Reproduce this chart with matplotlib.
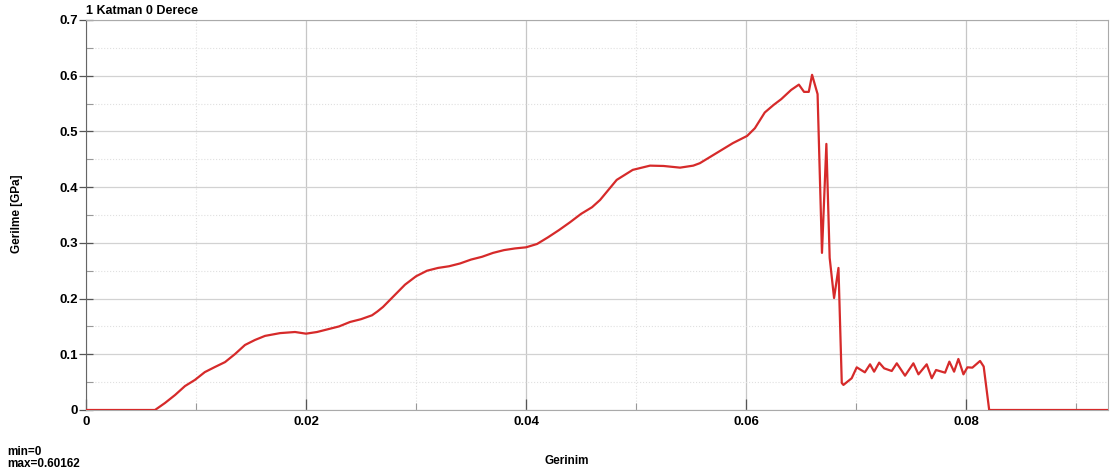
import matplotlib.pyplot as plt
from matplotlib.ticker import MultipleLocator
import numpy as np

plt.rcParams['font.family'] = ['Liberation Sans', 'DejaVu Sans']
plt.rcParams['font.weight'] = 'bold'

# strain / stress curve (GPa)
gerinim = [0.0, 0.00627, 0.00718, 0.0081, 0.009, 0.0099, 0.0108, 0.0117, 0.01264,
           0.01355, 0.01445, 0.01536, 0.01627, 0.01764, 0.019, 0.020, 0.021, 0.022,
           0.023, 0.024, 0.025, 0.026, 0.0265, 0.027, 0.028, 0.029, 0.030, 0.031,
           0.032, 0.033, 0.034, 0.035, 0.036, 0.037, 0.038, 0.039, 0.040, 0.041,
           0.042, 0.043, 0.044, 0.045, 0.046, 0.04673, 0.04824, 0.0497, 0.05127,
           0.0525, 0.054, 0.0552, 0.0558, 0.0573, 0.0588, 0.0601, 0.0608, 0.0617,
           0.0625, 0.0632, 0.0641, 0.0648, 0.06527, 0.0657, 0.0660, 0.0665, 0.0669,
           0.0673, 0.0676, 0.0680, 0.0684, 0.0687, 0.06885, 0.0696, 0.07006, 0.0708,
           0.07127, 0.07164, 0.0721, 0.07255, 0.07324, 0.0737, 0.07445, 0.07521,
           0.07567, 0.07642, 0.07688, 0.07727, 0.07809, 0.07848, 0.07891, 0.0793,
           0.07976, 0.08012, 0.08057, 0.08127, 0.0816, 0.0821, 0.0929]
gerilme = [0.0, 0.0, 0.0126, 0.027, 0.043, 0.054, 0.068, 0.077, 0.086,
           0.1005, 0.1167, 0.1257, 0.133, 0.138, 0.140, 0.137, 0.140, 0.145,
           0.150, 0.158, 0.163, 0.170, 0.177, 0.185, 0.205, 0.225, 0.240, 0.250,
           0.255, 0.258, 0.263, 0.270, 0.275, 0.282, 0.287, 0.290, 0.292, 0.298,
           0.310, 0.323, 0.337, 0.352, 0.364, 0.377, 0.413, 0.431, 0.4386,
           0.438, 0.435, 0.4386, 0.443, 0.461, 0.479, 0.492, 0.5057, 0.534,
           0.5475, 0.558, 0.5745, 0.584, 0.571, 0.571, 0.60162, 0.567, 0.282,
           0.4776, 0.273, 0.201, 0.255, 0.0485, 0.045, 0.057, 0.0766, 0.0676,
           0.082, 0.0688, 0.085, 0.0748, 0.070, 0.0838, 0.0616, 0.0838,
           0.064, 0.082, 0.057, 0.0718, 0.067, 0.0868, 0.0688, 0.0916,
           0.064, 0.0766, 0.076, 0.088, 0.078, 0.0, 0.0]

fig = plt.figure(figsize=(11.1, 4.74), dpi=100)
ax = fig.add_axes([86 / 1110, 64 / 474, 1022 / 1110, 390 / 474])

ax.plot(gerinim, gerilme, color='#d62a2a', lw=1.6, zorder=3)

ax.set_xlim(0, 0.0929)
ax.set_ylim(0, 0.7)
ax.xaxis.set_major_locator(MultipleLocator(0.02))
ax.xaxis.set_minor_locator(MultipleLocator(0.01))
ax.yaxis.set_major_locator(MultipleLocator(0.1))
ax.yaxis.set_minor_locator(MultipleLocator(0.05))
ax.xaxis.set_major_formatter(lambda v, p: '0' if v == 0 else f'{v:g}')
ax.yaxis.set_major_formatter(lambda v, p: '0' if v == 0 else f'{v:g}')

ax.grid(which='major', axis='y', color='#d2d2d2', lw=0.9, ls='-')
ax.grid(which='major', axis='x', color='#c6c6c6', lw=0.9, ls='-')
ax.grid(which='minor', color='#e0e0e0', lw=0.8, ls=':')
ax.set_axisbelow(True)

ax.tick_params(axis='y', which='major', direction='inout', length=10, width=0.9,
               color='#555555', labelsize=9.5, pad=1)
ax.tick_params(axis='x', which='major', direction='in', length=8, width=0.9,
               color='#555555', labelsize=9.5, pad=4)
ax.tick_params(which='minor', direction='in', length=5, width=0.8, color='#999999')
for lbl in ax.get_xticklabels() + ax.get_yticklabels():
    lbl.set_fontweight('bold')

for side in ['top', 'right', 'bottom']:
    ax.spines[side].set_color('#aaaaaa')
ax.spines['left'].set_color('#666666')

ax.set_title('1 Katman 0 Derece', loc='left', fontsize=9, fontweight='bold', pad=4)
ax.set_xlabel('Gerinim', fontsize=8.5, fontweight='bold')
ax.xaxis.set_label_coords(0.47, -0.115)
fig.text(17 / 1110, 0.5 + 23 / 474, 'Gerilme [GPa]', rotation=90, fontsize=8.5,
         fontweight='bold', ha='center', va='center')
fig.text(7 / 1110, 1 - 446 / 474, 'min=0\nmax=0.60162', fontsize=8.5,
         fontweight='bold', ha='left', va='top', linespacing=0.95)

fig.savefig('out.png', dpi=100)
